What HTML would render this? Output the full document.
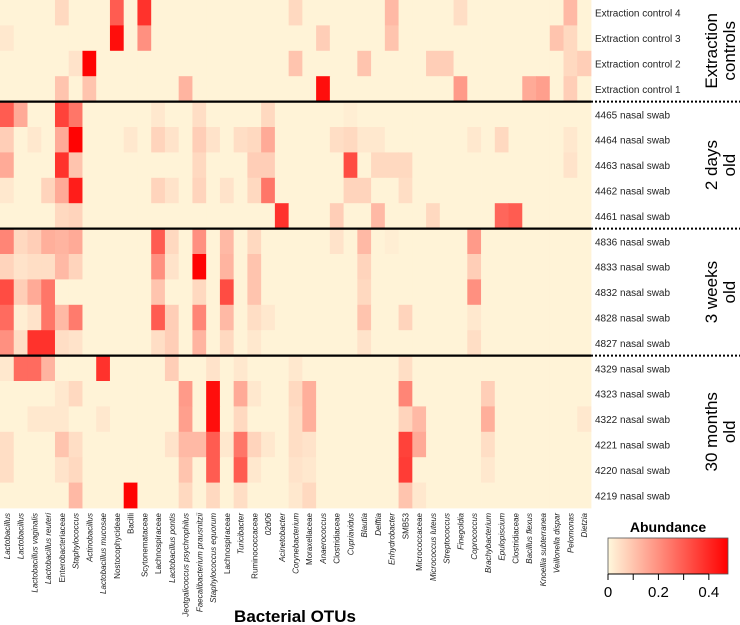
<!DOCTYPE html>
<html><head><meta charset="utf-8"><style>
html,body{margin:0;padding:0;background:#fff;}
svg{display:block;font-family:"Liberation Sans",Arial,sans-serif;}
</style></head><body>
<svg id="chart" width="740" height="625" viewBox="0 0 740 625">
<defs><linearGradient id="cb" x1="0" x2="1" y1="0" y2="0"><stop offset="0" stop-color="#FFF8DC"/><stop offset="1" stop-color="#FF0000"/></linearGradient></defs>
<g id="cells"></g>
<g id="xlabels"></g>
<g id="ylabels"></g>
<g id="seps"></g>
<g id="groups"></g>
<text x="295" y="622" text-anchor="middle" font-size="17" font-weight="bold">Bacterial OTUs</text>
<g>
<text x="668" y="532" text-anchor="middle" font-size="14" font-weight="bold">Abundance</text>
<rect x="608" y="538" width="120" height="36" fill="url(#cb)" stroke="#555" stroke-width="0.8"/>
<g id="cbticks"></g>
</g>
</svg>
<script>
const categories=["Lactobacillus","Lactobacillus","Lactobacillus vaginalis","Lactobacillus reuteri","Enterobacteriaceae","Staphylococcus","Actinobacillus","Lactobacillus mucosae","Nostocophycideae","Bacilli","Scytonemataceae","Lachnospiraceae","Lactobacillus pontis","Jeotgalicoccus psychrophilus","Faecalibacterium prausnitzii","Staphylococcus equorum","Lachnospiraceae","Turicibacter","Ruminococcaceae","02d06","Acinetobacter","Corynebacterium","Moraxellaceae","Anaerococcus","Clostridiaceae","Cupriavidus","Blautia","Delftia","Enhydrobacter","SMB53","Micrococcaceae","Micrococcus luteus","Streptococcus","Finegoldia","Coprococcus","Brachybacterium","Epulopiscium","Clostridiaceae","Bacillus flexus","Knoellia subterranea","Veillonella dispar","Pelomonas","Dietzia"];
const italicFlags=[1,1,1,1,0,1,1,1,0,0,0,0,1,1,1,1,0,1,0,1,1,1,0,1,0,1,1,1,1,0,0,1,1,1,1,1,1,0,1,1,1,1,1];
const samples=["Extraction control 4","Extraction control 3","Extraction control 2","Extraction control 1","4465 nasal swab","4464 nasal swab","4463 nasal swab","4462 nasal swab","4461 nasal swab","4836 nasal swab","4833 nasal swab","4832 nasal swab","4828 nasal swab","4827 nasal swab","4329 nasal swab","4323 nasal swab","4322 nasal swab","4221 nasal swab","4220 nasal swab","4219 nasal swab"];
const groupNames=[["Extraction","controls"],["2 days","old"],["3 weeks","old"],["30 months","old"]];
const groupSizes=[4,5,5,6];
const legendTicks=[0,0.1,0.2,0.3,0.4];
const legendTickLabels=["0","","0.2","","0.4"];
const maxValue=0.476;
// sparse non-background values per row: [column, value]
const row0=[[4,0.06],[8,0.3],[10,0.38],[21,0.06],[28,0.12],[33,0.05],[41,0.12]];
const row1=[[0,0.03],[8,0.45],[10,0.2],[23,0.08],[28,0.1],[40,0.1],[41,0.06]];
const row2=[[5,0.04],[6,0.47],[21,0.1],[26,0.1],[31,0.08],[32,0.08],[41,0.06],[42,0.08]];
const row3=[[4,0.1],[6,0.1],[13,0.13],[23,0.45],[33,0.18],[38,0.15],[39,0.17],[41,0.08]];
const row4=[[0,0.3],[1,0.15],[4,0.35],[5,0.25],[11,0.03],[14,0.05],[19,0.06],[25,0.02]];
const row5=[[0,0.08],[2,0.03],[4,0.15],[5,0.47],[9,0.03],[11,0.07],[12,0.04],[14,0.08],[15,0.04],[17,0.05],[18,0.06],[19,0.15],[24,0.05],[25,0.06],[26,0.03],[27,0.03],[34,0.03],[36,0.06],[41,0.03]];
const row6=[[0,0.15],[4,0.38],[5,0.1],[14,0.06],[18,0.08],[19,0.08],[25,0.33],[27,0.06],[28,0.06],[29,0.06],[41,0.04]];
const row7=[[0,0.03],[3,0.07],[4,0.15],[5,0.42],[11,0.07],[12,0.04],[14,0.07],[16,0.04],[18,0.06],[19,0.25],[25,0.07],[26,0.07],[29,0.05]];
const row8=[[4,0.06],[5,0.07],[20,0.38],[24,0.08],[27,0.12],[31,0.06],[36,0.28],[37,0.3]];
const row9=[[0,0.22],[1,0.06],[2,0.08],[3,0.14],[4,0.13],[5,0.15],[11,0.3],[12,0.06],[14,0.2],[16,0.12],[18,0.06],[24,0.04],[26,0.12],[28,0.02],[34,0.18]];
const row10=[[0,0.07],[1,0.04],[2,0.05],[3,0.05],[4,0.12],[5,0.07],[11,0.2],[12,0.04],[14,0.47],[16,0.13],[18,0.1],[26,0.07],[34,0.08]];
const row11=[[0,0.33],[1,0.08],[2,0.15],[3,0.25],[11,0.1],[14,0.06],[16,0.33],[18,0.1],[26,0.06],[34,0.2]];
const row12=[[0,0.27],[1,0.02],[2,0.04],[3,0.25],[4,0.12],[5,0.24],[11,0.3],[12,0.08],[14,0.22],[16,0.12],[18,0.05],[19,0.03],[26,0.1],[29,0.07],[34,0.03]];
const row13=[[0,0.2],[1,0.05],[2,0.38],[3,0.38],[4,0.05],[5,0.04],[11,0.05],[12,0.08],[14,0.13],[16,0.06],[18,0.03],[26,0.04],[34,0.05]];
const row14=[[0,0.03],[1,0.27],[2,0.27],[3,0.13],[7,0.38],[12,0.08],[15,0.04],[17,0.03],[21,0.03],[29,0.05]];
const row15=[[4,0.03],[5,0.06],[13,0.18],[15,0.45],[17,0.15],[18,0.03],[21,0.06],[22,0.14],[29,0.22],[35,0.08]];
const row16=[[2,0.03],[3,0.03],[4,0.03],[7,0.03],[13,0.17],[15,0.45],[17,0.06],[21,0.05],[22,0.14],[29,0.07],[30,0.12],[35,0.14],[42,0.03]];
const row17=[[0,0.05],[4,0.1],[5,0.05],[12,0.04],[13,0.12],[14,0.12],[15,0.3],[16,0.03],[17,0.25],[18,0.07],[19,0.03],[21,0.05],[22,0.04],[29,0.35],[30,0.15],[35,0.05]];
const row18=[[0,0.05],[4,0.04],[5,0.06],[13,0.1],[15,0.3],[17,0.3],[18,0.03],[21,0.04],[22,0.03],[29,0.36],[35,0.03]];
const row19=[[5,0.12],[9,0.47],[13,0.06],[15,0.06],[17,0.05],[21,0.03],[22,0.06],[29,0.1],[30,0.03]];
const rowsData=[row0,row1,row2,row3,row4,row5,row6,row7,row8,row9,row10,row11,row12,row13,row14,row15,row16,row17,row18,row19];
const baseValue=0.01;

const NS="http://www.w3.org/2000/svg";
const plotW=591, plotH=508;
const cw=plotW/categories.length, rh=plotH/samples.length;
const xPos=i=>i*cw, yPos=j=>j*rh;
function color(v){const t=Math.max(0,Math.min(1,v/maxValue));
 const r=255,g=Math.round(248*(1-t)),b=Math.round(220*(1-t));return `rgb(${r},${g},${b})`;}
function mk(tag,attrs,parent){const e=document.createElementNS(NS,tag);for(const k in attrs)e.setAttribute(k,attrs[k]);parent.appendChild(e);return e;}
const cells=document.getElementById('cells');
rowsData.forEach((row,j)=>{
 const vals=categories.map(()=>baseValue);
 row.forEach(([c,v])=>{vals[c]=v;});
 vals.forEach((v,i)=>{
  const r=mk('rect',{x:xPos(i).toFixed(2),y:yPos(j).toFixed(2),width:(cw+0.4).toFixed(2),height:(rh+0.4).toFixed(2),fill:color(v)},cells);
  
  
 });
});
const xl=document.getElementById('xlabels');
categories.forEach((c,i)=>{
 const cx=xPos(i)+cw/2+3;
 const t=mk('text',{x:0,y:0,transform:`translate(${cx.toFixed(2)},513) rotate(-90)`,'text-anchor':'end','font-size':'8','fill':'#222'},xl);
 if(italicFlags[i])t.setAttribute('font-style','italic');
 t.textContent=c;
 
 
});
const yl=document.getElementById('ylabels');
samples.forEach((s,j)=>{
 const t=mk('text',{x:595,y:(yPos(j)+rh/2+4).toFixed(2),'font-size':'10','fill':'#222'},yl);
 t.textContent=s;
 
 
});
const seps=document.getElementById('seps'),groups=document.getElementById('groups');
let start=0;
groupSizes.forEach((n,g)=>{
 const y0=yPos(start),y1=yPos(start+n),mid=(y0+y1)/2;
 const t=mk('text',{x:0,y:0,transform:`translate(720,${mid.toFixed(1)}) rotate(-90)`,'text-anchor':'middle','font-size':'17'},groups);
 const a=mk('tspan',{x:0,dy:'-3'},t);a.textContent=groupNames[g][0];
 const b=mk('tspan',{x:0,dy:'18'},t);b.textContent=groupNames[g][1];
 
 
 if(g<groupSizes.length-1){
  const l=mk('line',{x1:0,x2:plotW,y1:y1,y2:y1,stroke:'#000','stroke-width':2.2},seps);
  
  
  const d=mk('line',{x1:plotW,x2:740,y1:y1,y2:y1,stroke:'#000','stroke-width':2,'stroke-dasharray':'2,2'},seps);
  
  
 }
 start+=n;
});
const cbt=document.getElementById('cbticks');
const lx=v=>608+v/maxValue*120;
mk('line',{x1:lx(0),x2:lx(0.4),y1:574,y2:574,stroke:'#000','stroke-width':1},cbt);
legendTicks.forEach((v,i)=>{
 const l=mk('line',{x1:lx(v),x2:lx(v),y1:574,y2:580,stroke:'#000','stroke-width':1},cbt);
 
 
 if(legendTickLabels[i]){
  const t=mk('text',{x:lx(v),y:597,'text-anchor':'middle','font-size':'15'},cbt);
  t.textContent=legendTickLabels[i];
  
  
 }
});
</script>
</body></html>
